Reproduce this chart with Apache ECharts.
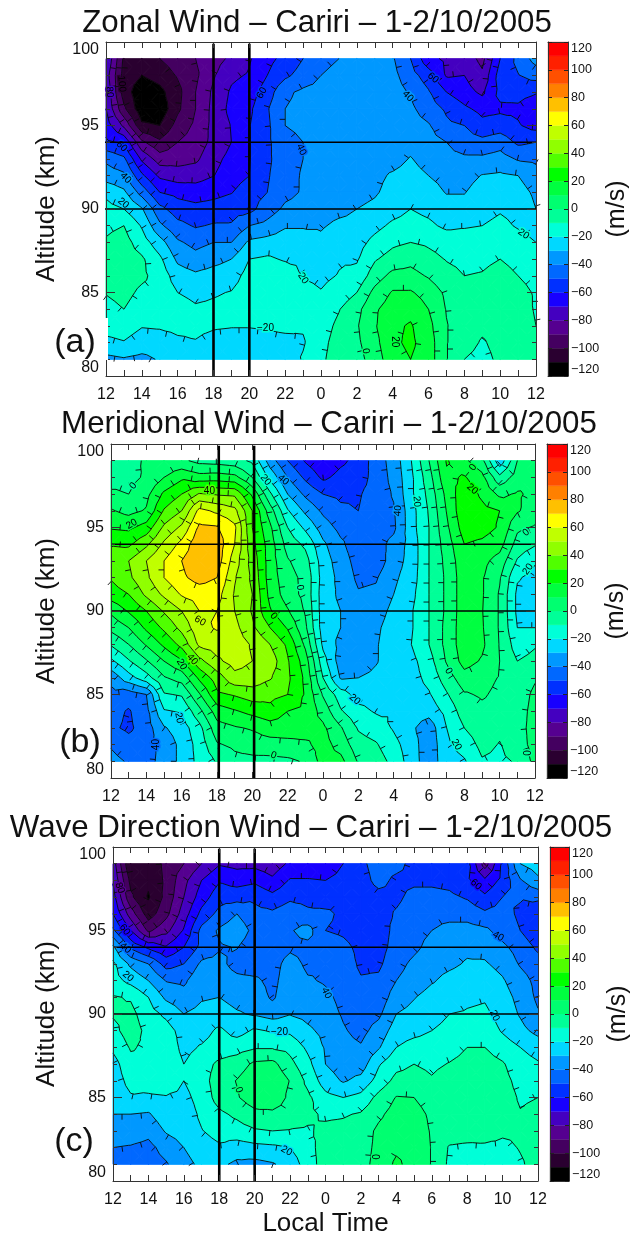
<!DOCTYPE html>
<html>
<head>
<meta charset="utf-8">
<style>html,body{margin:0;padding:0;background:#fff}#c{width:633px;height:1236px}</style>
<script src="https://cdn.jsdelivr.net/npm/echarts@6/dist/echarts.min.js"></script>
</head>
<body>
<div id="c"></div>
<script>
// Hours (local time, 12 -> 36 = next day's 12) and altitudes (km, top to bottom)
const hours = [12,13,14,15,16,17,18,19,20,21,22,23,24,25,26,27,28,29,30,31,32,33,34,35,36];
const altitudes = [99,98,97,96,95,94,93,92,91,90,89,88,87,86,85,84,83,82,81];
const refHoursByPanel = [[18,20],[18.1,20.1],[18,20]];
const refAltitudes = [94,90];

const zonal = [
[-70,-75,-72,-70,-65,-58,-42,-35,-22,-17,-12,-9,-8,-8,-9.5,-13,-17,-22,-33],
[-102,-104,-105,-98,-82,-62,-48,-38,-28,-20,-10,-6,-5,-5,-7,-10,-16,-20.5,-31],
[-104,-110,-117,-117,-108,-88,-72,-58,-44,-29,-21,-15,-8.5,-8,-12,-15,-19.5,-24,-33],
[-100,-106,-113,-117,-110,-98,-85,-72,-60,-47,-38,-26,-18,-14,-13,-15,-19,-24,-29],
[-95,-99,-103,-102,-96,-90,-84,-75,-63,-55,-47,-38.5,-32,-25,-20,-15,-18,-21.5,-26],
[-90,-92,-90,-90,-88,-86,-82,-74,-65,-57,-51,-43,-36.5,-28,-23,-18.5,-18,-20.5,-25],
[-84,-81,-78,-77,-77,-77,-73,-70.3,-63,-56,-49,-40,-33,-26,-21,-18,-19,-23,-25],
[-78,-72,-68.5,-67,-69.5,-70,-67,-65,-60.5,-54,-49,-40,-30,-24.5,-19.5,-17,-19.5,-24,-29],
[-71,-69,-65,-62,-60.5,-60.5,-60.5,-60,-54,-53,-40,-28,-20,-16,-14,-14,-19.5,-24,-29],
[-63,-60,-55,-51,-52,-52,-52,-51,-50,-45,-37,-26,-18.5,-13,-13,-14,-19,-23,-28.5],
[-57,-52,-42,-40,-40,-43,-44,-44,-43,-38,-31,-25,-21,-14,-12,-13,-18,-22.5,-27],
[-50,-46,-38,-37,-38,-40,-40,-39,-39,-36,-31,-25,-22,-20.5,-17,-15,-19,-21,-19],
[-43,-40,-37,-36,-36,-36,-36,-36,-35,-34,-31,-28,-25,-22,-19.5,-16,-14,-12.5,-11.5],
[-40,-37,-35,-35,-35,-35,-35,-35,-34,-32.5,-28,-24,-21,-19.5,-16,-10.5,-8,-6.5,-6],
[-38,-35,-34,-34,-34,-34,-34,-34,-33,-30,-27.5,-24,-21,-17,-10,-3,-1,-2,-4],
[-36,-34,-34,-34,-34,-34,-33,-32,-31,-28,-23,-17,-11,-5,3,8.5,9,7,5],
[-39,-37,-36,-35,-35,-34,-33,-29,-27,-24,-18,-12,-6,3,11,15,18,18,16],
[-50,-46,-41,-38,-36,-33,-29.5,-27,-25,-20,-16,-10,-3,3.5,11,17,21,22,20],
[-67,-55,-49,-45,-39,-36,-33.5,-30,-26,-22.5,-18,-11.5,-7,-1,6,10,13,15,15],
[-72,-71,-60,-51.5,-48,-40,-37,-33,-30.5,-26,-22,-14,-10.5,-7,-2,-0.5,0.5,0.5,0.5],
[-74,-70,-66,-58,-50,-46,-38,-34,-30.5,-26,-21,-15,-12,-10,-7,-5,-5,-6,-10],
[-83,-78,-72,-63,-57,-47,-38,-29.5,-25,-23.5,-20,-14,-11.5,-9.5,-7.5,-6,-8,-11,-13],
[-60,-55,-57,-62,-55,-44,-36,-28.5,-24,-21,-17.5,-13,-10,-7.5,-6,-6,-6.5,-7,-8],
[-47,-50.5,-56,-62,-59,-52,-41,-30,-26,-23,-21,-16,-12,-10,-7,-5,-4.5,-4,-4],
[-36,-46,-59,-68,-64,-50,-42,-36,-32,-30,-24,-20,-16,-13,-11,-11,-10,-9,-9]
];
const meridional = [
[-8,-5,2,11,19,29,35,31,25,12,3,-9,-22,-37,-43,-46,-48,-41,-37],
[-5,-3,0,7,18,28,40,38,30,21,10,0,-11,-24,-45,-51,-52,-46,-41],
[2,1.5,7,11,24,38,50,48,42,30,22,11,-1,-14,-40,-43,-45,-44,-43],
[1,10,22,31,42,52,60,60,52,41,32,22,10,-1,-11,-21,-31,-37,-37],
[2,18,30,40,52,63,70,68,61,50,43,33,19,4,-9,-19,-25,-27,-27],
[-3,14,41,63,72,78,78,74,64,60,57,52,37,22,9,-3,-13,-16,-17],
[-4,15,39,58,71,76,75,70,64,60,61,55,48,35,28,15,6,-1,-9],
[-6,13,38,53,62,60,55,51,49,50,53,55,54,47,31,19,9,2,-3],
[-12,0,18,30,30,33,36,38,40,39,42,49,50,46,35,23,11,5,-3],
[-35,-23,-8,5,12,15,15,15,17,21,30,40,46,41,33,27,15,6,-3],
[-50,-40,-30,-19,-10,-4,1,4,5,11,19,28,31,32,30,20,15,7,-2],
[-61,-52,-42,-32,-22,-12,-6,-3,-3,-1,2,8,15,18,19,18,15,8,1],
[-68,-62,-50,-42,-35,-28,-25,-24,-25,-25,-25,-22,-16,-10,-1,6,12,14,14],
[-62,-57,-52,-48,-43,-38,-35,-33,-32,-30,-30,-33,-35,-31,-15,-9,1,6,13],
[-57,-55,-51,-50,-45,-46,-44,-42,-39,-37,-36,-36,-37,-30,-24,-17,-11,-6,-1],
[-45,-46,-46,-45,-45,-44,-46,-41,-38,-35,-32,-31,-31,-27,-24,-21,-15,-9,-5],
[-36,-37,-39,-41,-42,-37,-35,-32,-30,-27,-25,-24,-23,-23,-22,-21,-21,-17,-13],
[-20,-22,-22,-24,-24,-26,-26,-25,-23,-21,-21,-20,-23,-24,-25,-25,-28,-25,-25],
[0,-4,-7,-9,-10,-10,-10,-10,-10,-10,-10,-10,-14,-17,-21,-26,-36,-37,-36],
[21,18,13,10.5,8,5,3,2,2,2,3,3,1,-5,-11,-17,-20,-22,-24],
[12,21,27,28,25,20,17,16,16,16,16,16,14,6,-1,-5,-10,-16,-21],
[3,13,18,23,24,18,13,11,11,10.5,11,12,9,3,1,-2,-4,-7,-11],
[-27,-7,8,20,19,14,6,1,-1,-1,-1,-0.5,0,-0.5,-2,-3,-8,-10.5,-12],
[0,5,11,11,2,-4,-11,-19,-22,-22,-20,-15,-10,-7,-5,-4,-3,-4,-9],
[8,10,8,5,-1,-9,-19,-23,-24,-24,-20,-11,-7,-1,2,3,3,3,3]
];
const waveDir = [
[-75,-71,-66,-60,-48,-28,-18,-16,-9,-9,-13,-18,-24,-25,-26,-30,-34,-40,-43],
[-110,-103,-98,-85,-70,-52,-32,-23,-11,-7,-5,-9,-13,-17,-21,-30,-34,-41,-44],
[-108,-108,-111,-105,-92,-62,-40,-30,-20,-16,-13,-12,-12,-14,-22,-31,-37,-43,-45],
[-97,-98,-97,-93,-83,-69,-54,-40.5,-32,-22,-16,-13,-12,-12,-21,-24,-29,-36,-41],
[-90,-83,-80,-75,-69,-60,-50,-42,-36,-30,-24,-23,-20,-20,-23,-26,-26,-30,-33],
[-80,-70,-65,-57,-47,-47,-38,-32,-31,-27,-24,-19,-14,-14,-16,-18,-20.5,-25,-28],
[-71,-61,-54,-47,-38.5,-41,-37,-34,-30,-26,-18,-15,-8,-5,-6,-12,-16,-21.5,-28],
[-73,-64,-54,-40,-34,-39.5,-44,-37,-33,-29,-24,-14,-5,0.5,-1,-8,-14,-25,-32],
[-73,-62,-52,-47,-43,-46,-46,-38,-34,-31,-18.5,-11,2,7,6,-3,-11,-23,-33],
[-76,-68,-57,-48,-43,-46,-44,-43,-41.5,-34,-21,-11,3,8,9,-3,-10,-22,-31],
[-68,-59,-52,-44,-41,-42,-36,-34,-33,-30.5,-22,-13,-7,-0.5,-3,-5,-10.5,-20,-26],
[-68,-59,-53,-48,-36,-43,-42,-39,-35,-33,-28,-22,-17,-12.5,-8,-8,-11,-13,-15],
[-68,-60,-55,-48,-50,-44,-41,-41,-38,-36,-33,-31,-30,-25,-17,-11.5,-8,-6,-5],
[-60,-56,-53,-52,-52,-47,-44,-44,-42.5,-41,-39,-37,-35,-31,-20,-11,-7,-6,-5],
[-52,-54,-56,-56,-56,-53,-52,-49,-46,-45,-43,-39,-35,-27,-17,-9,-5,-4,-3],
[-46,-47,-53,-54,-55,-54,-52,-48,-46,-42,-36,-31,-21,-16,-7,-2,2,2.5,3],
[-47,-52,-52,-49,-47,-46,-43,-40,-35,-30,-25,-20,-13,-7,0.5,4,6,8,12],
[-53,-52,-47,-45,-43,-42,-38,-36,-30.5,-27,-23,-16,-10,-6,0,4,6,7,6],
[-54,-52,-47,-43,-40,-37,-34,-31,-26,-24,-20,-15,-12,-9,-5,-2,-1,-0.5,-0.5],
[-55,-53,-48,-43,-37,-34,-32,-27,-25,-20,-17,-14,-9.5,-5.5,-4,-4,-4.5,-11,-12],
[-56,-58,-51,-44,-36,-32,-29,-25,-22,-19,-16,-10,-7,-4.5,-4,-4,-5,-12,-13],
[-85,-68,-58,-48,-38,-33,-29,-25,-21,-18,-14,-10,-6,-5,-5,-5,-6,-11.5,-13],
[-58,-57,-50,-46,-44,-38,-33,-29,-26,-24,-21,-15,-9,-7,-6,-6,-8.5,-12,-14],
[-30,-41,-49,-52,-50,-44,-41,-36,-33,-31,-27,-20,-16,-13,-11,-9.5,-9,-9.5,-11],
[-25,-32,-47,-60,-58,-52,-46,-43,-42,-39,-33,-24,-19,-12,-10,-8,-7,-7,-7]
];

// Contour labels: [hour, altitude, text, rotation in degrees]
const zonalLabels = [
[12.88,97.5,'100',-85],[12.2,97,'80',-85],[12.87,93.75,'60',-45],[13.1,91.85,'40',-45],[12.97,90.35,'20',-40],
[20.7,96.95,'60',60],[22.9,93.55,'40',-65],[23,85.85,'20',-55],[20.9,82.85,'\u221220',0],
[30.25,97.85,'60',-40],[28.85,96.75,'40',-45],[35.3,88.5,'20',-35],[28.1,82.05,'20',-90],[26.5,81.5,'0',-80]
];
const meridionalLabels = [
[13.26,97.5,'0',50],[13.17,95.2,'20',30],[17.57,97.15,'40',0],[17.04,89.4,'60',-30],[16.6,87.1,'40',-50],
[16,86.8,'20',-60],[15.85,83.6,'20',-80],[14.55,82,'40',90],[21.2,81.35,'0',-20],[20.75,97.85,'20',-50],
[21.75,97.85,'40',-40],[22.7,91.4,'0',-80],[21.2,89.7,'0',-50],[28.25,96,'40',85],[29.3,96.55,'20',-85],
[32.5,98.6,'0',55],[32.45,97.3,'20',-40],[35.5,94.7,'0',40],[35.6,92.5,'20',55],[25.8,84.7,'20',-40],
[31.1,86.4,'0',-60],[31.55,82,'20',-60],[35.6,81.5,'0',90]
];
const waveLabels = [
[12.38,97.55,'80',-70],[12.66,95.05,'60',-55],[12.7,93.95,'40',-40],[12.85,92.25,'20',-40],
[21.4,88.9,'\u221220',0],[19.1,85.45,'0',-70],[21.8,81.8,'20',-30],
[32.5,97.75,'60',-40],[33.75,94.65,'40',-30],[24.05,91.25,'40',-65],[33.55,89.9,'20',-65],[26.8,81.45,'0',-90]
];

// Colour of each 10 m/s band, lowest band first
const levels = [-120,-110,-100,-90,-80,-70,-60,-50,-40,-30,-20,-10,0,10,20,30,40,50,60,70,80,90,100,110,120];
const bandColors = ['#000000','#2a0030','#440060','#550090','#4400c0','#1800ff','#0030ff','#0068ff','#0098ff','#00d8ff','#00ffd8','#00ff98',
  '#00ff70','#00ff40','#00ff00','#50ff00','#90ff00','#c0ff00','#ffff00','#ffc000','#ff8000','#ff5000','#ff2000','#ff0000'];

const titles = ['Zonal Wind \u2013 Cariri \u2013 1-2/10/2005','Meridional Wind \u2013 Cariri \u2013 1-2/10/2005','Wave Direction Wind \u2013 Cariri \u2013 1-2/10/2005'];
const panelTags = ['(a)','(b)','(c)'];
const FONT = '"Liberation Sans", Arial, sans-serif';

const layouts = [
 {grid:[106,42,430,334], bar:[548,42,20,334], titleX:317, titleY:23, tagX:75, tagY:343, gap:46},
 {grid:[111,444,424,334], bar:[547,444,20,334], titleX:329, titleY:424, tagX:80, tagY:743, gap:51},
 {grid:[113,847,425,334], bar:[550,847,19,334], titleX:311, titleY:828, tagX:74, tagY:1142, gap:53}
];
const panels = [[zonal,zonalLabels],[meridional,meridionalLabels],[waveDir,waveLabels]];

function bandOf(v){ let i=Math.floor((v+120)/10); return bandColors[Math.max(0,Math.min(23,i))]; }

function clip(poly,L,keepAbove){
  const out=[];
  for(let i=0;i<poly.length;i++){
    const p=poly[i],q=poly[(i+1)%poly.length];
    const pin=keepAbove?p[2]>=L:p[2]<=L, qin=keepAbove?q[2]>=L:q[2]<=L;
    if(pin) out.push(p);
    if(pin!==qin){ const f=(L-p[2])/(q[2]-p[2]); out.push([p[0]+f*(q[0]-p[0]),p[1]+f*(q[1]-p[1]),L]); }
  }
  return out;
}
function triangles(cols,i,j){
  const A=[hours[i],altitudes[j],cols[i][j],i*100+j], B=[hours[i+1],altitudes[j],cols[i+1][j],(i+1)*100+j],
        C=[hours[i+1],altitudes[j+1],cols[i+1][j+1],(i+1)*100+j+1], D=[hours[i],altitudes[j+1],cols[i][j+1],i*100+j+1];
  const E=[(A[0]+B[0])/2,(A[1]+D[1])/2,(A[2]+B[2]+C[2]+D[2])/4,10000+i*100+j];
  return [[A,B,E],[B,C,E],[C,D,E],[D,A,E]];
}
function contourChains(cols){
  const chains=[];
  for(let L=-110;L<=110;L+=10){
    const segs=[],adj=new Map();
    for(let i=0;i<hours.length-1;i++)for(let j=0;j<altitudes.length-1;j++){
      for(const tri of triangles(cols,i,j)){
        const cross=[];
        for(let e=0;e<3;e++){
          const p=tri[e],q=tri[(e+1)%3];
          if((p[2]<L)!==(q[2]<L)){
            const f=(L-p[2])/(q[2]-p[2]);
            cross.push({k:Math.min(p[3],q[3])+'_'+Math.max(p[3],q[3]),pt:[p[0]+f*(q[0]-p[0]),p[1]+f*(q[1]-p[1])]});
          }
        }
        if(cross.length===2){
          const low=tri.reduce((a,b)=>a[2]<b[2]?a:b);
          const s={a:cross[0],b:cross[1],low:[low[0],low[1]],used:false};
          segs.push(s);
          for(const c of cross){ if(!adj.has(c.k))adj.set(c.k,[]); adj.get(c.k).push(s); }
        }
      }
    }
    const walk=(start,startKey)=>{
      const pts=[],lows=[]; let s=start,k=startKey;
      pts.push(s.a.k===k?s.a.pt:s.b.pt);
      while(s&&!s.used){
        s.used=true;
        const nxt=s.a.k===k?s.b:s.a;
        pts.push(nxt.pt); lows.push(s.low); k=nxt.k;
        s=(adj.get(k)||[]).find(x=>!x.used);
      }
      chains.push({pts,lows});
    };
    for(const [k,list] of adj){ if(list.length===1&&!list[0].used) walk(list[0],k); }
    for(const s of segs){ if(!s.used) walk(s,s.a.k); }
  }
  return chains;
}
function lookup(cols,t,a){
  const x=Math.max(0,Math.min(hours.length-1.001,t-12)), y=Math.max(0,Math.min(altitudes.length-1.001,99-a));
  const i=Math.floor(x),j=Math.floor(y),u=x-i,v=y-j;
  return (1-u)*(1-v)*cols[i][j]+u*(1-v)*cols[i+1][j]+(1-u)*v*cols[i][j+1]+u*v*cols[i+1][j+1];
}

const grid=[],xAxis=[],yAxis=[],series=[],graphic=[];
const formatHour=v=>String(v>=24?v-24:v);
const axisStyle={lineStyle:{color:'#333',width:1}};

panels.forEach(([cols,labels],p)=>{
  const L=layouts[p];
  const gi=grid.length;
  grid.push({left:L.grid[0],top:L.grid[1],width:L.grid[2],height:L.grid[3],containLabel:false,outerBoundsMode:'none'});
  const xb=xAxis.length, yl=yAxis.length;
  const xBase={type:'value',min:12,max:36,interval:2,gridIndex:gi,z:10,splitLine:{show:false},axisLine:{show:true,onZero:false,...axisStyle},
    axisTick:{show:true,inside:true,length:6,lineStyle:{color:'#333'}},minorTick:{show:true,splitNumber:2,length:6,lineStyle:{color:'#333'}}};
  xAxis.push({...xBase,position:'bottom',axisLabel:{show:true,formatter:formatHour,fontFamily:FONT,fontSize:16,color:'#111',margin:11},
    ...(p===2?{name:'Local Time',nameLocation:'middle',nameGap:30,nameTextStyle:{fontFamily:FONT,fontSize:26,color:'#111'}}:{})});
  xAxis.push({...xBase,position:'top',axisLabel:{show:false}});
  const yBase={type:'value',min:80,max:100,interval:5,gridIndex:gi,z:10,splitLine:{show:false},axisLine:{show:true,onZero:false,...axisStyle},
    axisTick:{show:true,inside:true,length:9,lineStyle:{color:'#333'}},minorTick:{show:true,splitNumber:5,length:4,lineStyle:{color:'#333'}}};
  yAxis.push({...yBase,position:'left',name:'Altitude (km)',nameLocation:'middle',nameRotate:90,nameGap:L.gap,
    nameTextStyle:{fontFamily:FONT,fontSize:26,color:'#111'},
    axisLabel:{show:true,fontFamily:FONT,fontSize:16,color:'#111',margin:7,verticalAlignMaxLabel:'top',verticalAlignMinLabel:'bottom'}});
  yAxis.push({...yBase,position:'right',axisLabel:{show:false}});

  // filled contour bands
  const cells=[];
  for(let i=0;i<hours.length-1;i++)for(let j=0;j<altitudes.length-1;j++) cells.push([hours[i],altitudes[j],i,j]);
  series.push({type:'custom',coordinateSystem:'cartesian2d',xAxisIndex:xb,yAxisIndex:yl,z:2,silent:true,animation:false,clip:false,progressive:0,
    data:cells,renderItem:(params,api)=>{
      const i=api.value(2),j=api.value(3),children=[];
      for(const tri of triangles(cols,i,j)){
        const vs=tri.map(v=>v[2]);
        const lo=Math.floor((Math.min(...vs)+120)/10), hi=Math.floor((Math.max(...vs)+120)/10);
        for(let b=lo;b<=hi;b++){
          let poly=clip(tri,levels[b],true);
          if(poly.length) poly=clip(poly,levels[b+1],false);
          if(poly.length>=3){
            const col=bandColors[Math.max(0,Math.min(23,b))];
            children.push({type:'polygon',shape:{points:poly.map(q=>api.coord([q[0],q[1]]))},style:{fill:col,stroke:col,lineWidth:1}});
          }
        }
      }
      return {type:'group',children};
    }});

  // contour lines, downhill ticks and labels
  const chains=contourChains(cols);
  series.push({type:'custom',coordinateSystem:'cartesian2d',xAxisIndex:xb,yAxisIndex:yl,z:3,silent:true,animation:false,clip:false,progressive:0,
    data:[[24,90]],renderItem:(params,api)=>{
      const children=[];
      for(const ch of chains){
        const px=ch.pts.map(q=>api.coord(q));
        children.push({type:'polyline',shape:{points:px},style:{fill:'none',stroke:'#0a0a0a',lineWidth:0.9}});
        let acc=9;
        for(let s=0;s<px.length-1;s++){
          const a=px[s],b=px[s+1],dx=b[0]-a[0],dy=b[1]-a[1],len=Math.hypot(dx,dy);
          if(len<1e-6)continue;
          let nx=-dy/len,ny=dx/len;
          const lo=api.coord(ch.lows[s]);
          if((lo[0]-a[0])*nx+(lo[1]-a[1])*ny<0){nx=-nx;ny=-ny;}
          let d=acc;
          while(d<len){
            const x=a[0]+dx*d/len,y=a[1]+dy*d/len;
            children.push({type:'line',shape:{x1:x,y1:y,x2:x+nx*5.5,y2:y+ny*5.5},style:{stroke:'#0a0a0a',lineWidth:0.9}});
            d+=19;
          }
          acc=d-len;
        }
      }
      for(const [t,a,text,rot] of labels){
        const c=api.coord([t,a]);
        children.push({type:'text',x:c[0],y:c[1],rotation:rot*Math.PI/180,z2:5,
          style:{text,x:0,y:0,align:'center',verticalAlign:'middle',font:'10px '+FONT,fill:'#000',stroke:bandOf(lookup(cols,t,a)),lineWidth:3}});
      }
      return {type:'group',children};
    }});

  // heavy reference lines
  refHoursByPanel[p].forEach(h=>series.push({type:'line',xAxisIndex:xb,yAxisIndex:yl,z:6,silent:true,animation:false,clip:false,showSymbol:false,
    data:[[h,99.9],[h,80]],lineStyle:{color:'#000',width:2.6}}));
  refAltitudes.forEach(a=>series.push({type:'line',xAxisIndex:xb,yAxisIndex:yl,z:6,silent:true,animation:false,clip:false,showSymbol:false,
    data:[[p===0?11.9:12,a],[36,a]],lineStyle:{color:'#000',width:1.6}}));

  // colour bar
  const bi=grid.length;
  grid.push({left:L.bar[0],top:L.bar[1],width:L.bar[2],height:L.bar[3],outerBoundsMode:'none'});
  const bx=xAxis.length, by=yAxis.length;
  const bxBase={type:'value',min:0,max:1,gridIndex:bi,z:10,axisLine:{show:true,onZero:false,...axisStyle},axisTick:{show:false},axisLabel:{show:false},splitLine:{show:false}};
  xAxis.push({...bxBase,position:'bottom'});
  xAxis.push({...bxBase,position:'top'});
  const byBase={type:'value',min:-120,max:120,interval:20,gridIndex:bi,z:10,splitLine:{show:false},axisLine:{show:true,onZero:false,...axisStyle},
    axisTick:{show:true,inside:true,length:4,lineStyle:{color:'#222'}}};
  yAxis.push({...byBase,position:'left',axisLabel:{show:false}});
  yAxis.push({...byBase,position:'right',name:'(m/s)',nameLocation:'middle',nameRotate:90,nameGap:37,
    nameTextStyle:{fontFamily:FONT,fontSize:25,color:'#111'},
    axisLabel:{show:true,fontFamily:FONT,fontSize:12.5,color:'#111',margin:3,formatter:v=>String(v).replace('-','\u2212'),verticalAlignMaxLabel:'top',verticalAlignMinLabel:'bottom'}});
  series.push({type:'custom',coordinateSystem:'cartesian2d',xAxisIndex:bx,yAxisIndex:by,z:2,silent:true,animation:false,clip:false,
    data:bandColors.map((c,i)=>[0,levels[i],levels[i+1],i]),renderItem:(params,api)=>{
      const a=api.coord([0,api.value(1)]),b=api.coord([1,api.value(2)]);
      const col=bandColors[api.value(3)];
      return {type:'rect',shape:{x:a[0],y:b[1],width:b[0]-a[0],height:a[1]-b[1]},style:{fill:col,stroke:col,lineWidth:0.3}};
    }});

  graphic.push({type:'text',x:L.titleX,y:L.titleY,z:50,style:{text:titles[p],font:'31.3px '+FONT,fill:'#111',align:'center',verticalAlign:'middle'}});
  if(p===0) graphic.push({type:'rect',shape:{x:60,y:318,width:48,height:42},z:49,style:{fill:'#fff'}});
  graphic.push({type:'text',x:L.tagX,y:L.tagY,z:50,style:{text:panelTags[p],font:'34px '+FONT,fill:'#111',align:'center',verticalAlign:'middle'}});
});

const chart=echarts.init(document.getElementById('c'),null,{renderer:'canvas',width:633,height:1236});
chart.setOption({animation:false,backgroundColor:'#fff',grid,xAxis,yAxis,series,graphic});
</script>
</body>
</html>
